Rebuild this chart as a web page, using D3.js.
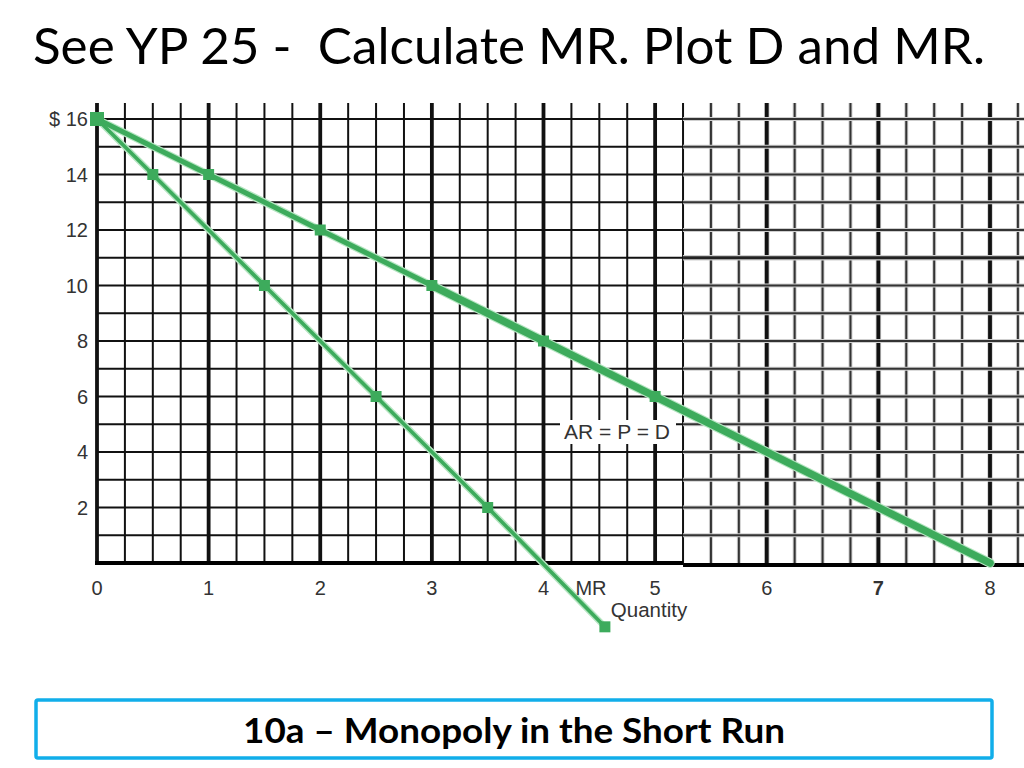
<!DOCTYPE html>
<html>
<head>
<meta charset="utf-8">
<script src="https://cdn.jsdelivr.net/npm/d3@7"></script>
<style>
  html, body { margin: 0; padding: 0; background: #fff; }
  svg { display: block; }
</style>
</head>
<body>
<svg id="chart" width="1024" height="768"></svg>
<script>
// ---- data ----
const titleText = "See YP 25 -  Calculate MR. Plot D and MR.";
const footerText = "10a \u2013 Monopoly in the Short Run";
const demandQ = [0, 1, 2, 3, 4, 5, 6, 7, 8];
const demandP = [16, 14, 12, 10, 8, 6, 4, 2, 0];
const demandMarkedQ = [0, 1, 2, 3, 4, 5];
const mrQ = [0, 0.5, 1.5, 2.5, 3.5, 4.55];
const mrP = [16, 14, 10, 6, 2, -2.3];
const xTicks = [0, 1, 2, 3, 4, 5, 6, 7, 8];
const yTicks = [16, 14, 12, 10, 8, 6, 4, 2];
const yTickLabels = ["$ 16", "14", "12", "10", "8", "6", "4", "2"];

// ---- drawing ----
const svg = d3.select("#chart");
const green = "#3dab5c";
const x = d3.scaleLinear().domain([0, 8]).range([97, 990]);
const y = d3.scaleLinear().domain([0, 16]).range([563, 119]);

// Title
svg.append("text")
  .attr("x", 33).attr("y", 64)
  .attr("font-family", "Lato, 'Open Sans', sans-serif")
  .attr("font-size", 50)
  .attr("fill", "#000")
  .attr("xml:space", "preserve")
  .style("white-space", "pre")
  .text(titleText)
  .attr("textLength", 952)
  .attr("lengthAdjust", "spacingAndGlyphs");

// Grid
const grid = svg.append("g");
const splitQ = 5.25;
const gridTop = 103;
const qLines = d3.range(0, 8.26, 0.25);
qLines.forEach(q => {
  const isInt = Math.abs(q - Math.round(q)) < 1e-6;
  const right = q > splitQ + 1e-6;
  if (right) {
    grid.append("line")
      .attr("x1", x(q)).attr("x2", x(q))
      .attr("y1", gridTop).attr("y2", y(0))
      .attr("stroke", "#cfcfcf").attr("stroke-width", isInt ? 5.5 : 4);
  }
  grid.append("line")
    .attr("x1", x(q)).attr("x2", x(q))
    .attr("y1", gridTop).attr("y2", y(0))
    .attr("stroke", right ? (isInt ? "#111" : "#333") : "#111")
    .attr("stroke-width", isInt ? 3.8 : 2);
});
d3.range(1, 17).forEach(p => {
  grid.append("line")
    .attr("x1", x(0)).attr("x2", x(splitQ))
    .attr("y1", y(p)).attr("y2", y(p))
    .attr("stroke", "#111").attr("stroke-width", 2);
  const thick = p === 11;
  grid.append("line")
    .attr("x1", x(splitQ)).attr("x2", 1024)
    .attr("y1", y(p)).attr("y2", y(p))
    .attr("stroke", "#cfcfcf").attr("stroke-width", thick ? 5.5 : 4);
  grid.append("line")
    .attr("x1", x(splitQ)).attr("x2", 1024)
    .attr("y1", y(p)).attr("y2", y(p))
    .attr("stroke", thick ? "#222" : "#333").attr("stroke-width", thick ? 3.2 : 2);
});
// x-axis baseline
grid.append("line")
  .attr("x1", x(0) - 2).attr("x2", x(splitQ))
  .attr("y1", y(0)).attr("y2", y(0))
  .attr("stroke", "#000").attr("stroke-width", 4);
grid.append("line")
  .attr("x1", x(splitQ)).attr("x2", 1024)
  .attr("y1", y(0) + 2).attr("y2", y(0) + 2)
  .attr("stroke", "#000").attr("stroke-width", 4);

// Lines
const line = d3.line().x(d => x(d[0])).y(d => y(d[1]));
const demand = demandQ.map((q, i) => [q, demandP[i]]);
const mr = mrQ.map((q, i) => [q, mrP[i]]);
const dFirst = demand.filter(d => d[0] <= 3);
const dSecond = demand.filter(d => d[0] >= 3);

const lines = svg.append("g").attr("fill", "none").attr("stroke-linecap", "round").attr("stroke-linejoin", "round");
lines.append("path").attr("d", line(mr)).attr("stroke", "#b6e6c2").attr("stroke-width", 6.5);
lines.append("path").attr("d", line(dFirst)).attr("stroke", "#b6e6c2").attr("stroke-width", 7.5);
lines.append("path").attr("d", line(dSecond)).attr("stroke", "#b6e6c2").attr("stroke-width", 9.5);
lines.append("path").attr("d", line(mr)).attr("stroke", green).attr("stroke-width", 3.6);
lines.append("path").attr("d", line(dFirst)).attr("stroke", green).attr("stroke-width", 5);
lines.append("path").attr("d", line(dSecond)).attr("stroke", green).attr("stroke-width", 7.5);

// Markers
const markers = svg.append("g").attr("fill", green);
const sq = 11;
demand.filter(d => demandMarkedQ.includes(d[0])).forEach(d => {
  const s = d[0] === 0 ? 14 : sq;
  markers.append("rect").attr("x", x(d[0]) - s / 2).attr("y", y(d[1]) - s / 2)
    .attr("width", s).attr("height", s);
});
mr.forEach(d => {
  const s = d[0] === 0 ? 14 : sq;
  markers.append("rect").attr("x", x(d[0]) - s / 2).attr("y", y(d[1]) - s / 2)
    .attr("width", s).attr("height", s);
});

// AR = P = D label background
svg.append("rect").attr("x", 560).attr("y", 420).attr("width", 116).attr("height", 24).attr("fill", "#fff");

// Axis labels
const lab = svg.append("g")
  .attr("font-family", "Arial, 'Liberation Sans', sans-serif")
  .attr("fill", "#333");
yTicks.forEach((v, i) => {
  lab.append("text").attr("x", 88).attr("y", y(v) + 7)
    .attr("text-anchor", "end").attr("font-size", 20)
    .text(yTickLabels[i]);
});
xTicks.forEach(v => {
  lab.append("text").attr("x", x(v)).attr("y", 595)
    .attr("text-anchor", "middle").attr("font-size", 20)
    .attr("font-weight", v === 7 ? "bold" : "normal")
    .text(String(v));
});
lab.append("text").attr("x", 591).attr("y", 595)
  .attr("text-anchor", "middle").attr("font-size", 20).text("MR");
lab.append("text").attr("x", 649).attr("y", 617)
  .attr("text-anchor", "middle").attr("font-size", 20.5).text("Quantity");
lab.append("text").attr("x", 617).attr("y", 439)
  .attr("text-anchor", "middle").attr("font-size", 21).text("AR = P = D");

// Footer box
svg.append("rect").attr("x", 36).attr("y", 700).attr("width", 956).attr("height", 58)
  .attr("fill", "#fff").attr("stroke", "#11aeea").attr("stroke-width", 3.5).attr("rx", 2);
svg.append("text").attr("x", 243).attr("y", 743)
  .attr("font-family", "Lato, 'Open Sans', sans-serif")
  .attr("font-weight", "bold").attr("font-size", 35).attr("fill", "#000")
  .text(footerText)
  .attr("textLength", 542).attr("lengthAdjust", "spacingAndGlyphs");
</script>
</body>
</html>
